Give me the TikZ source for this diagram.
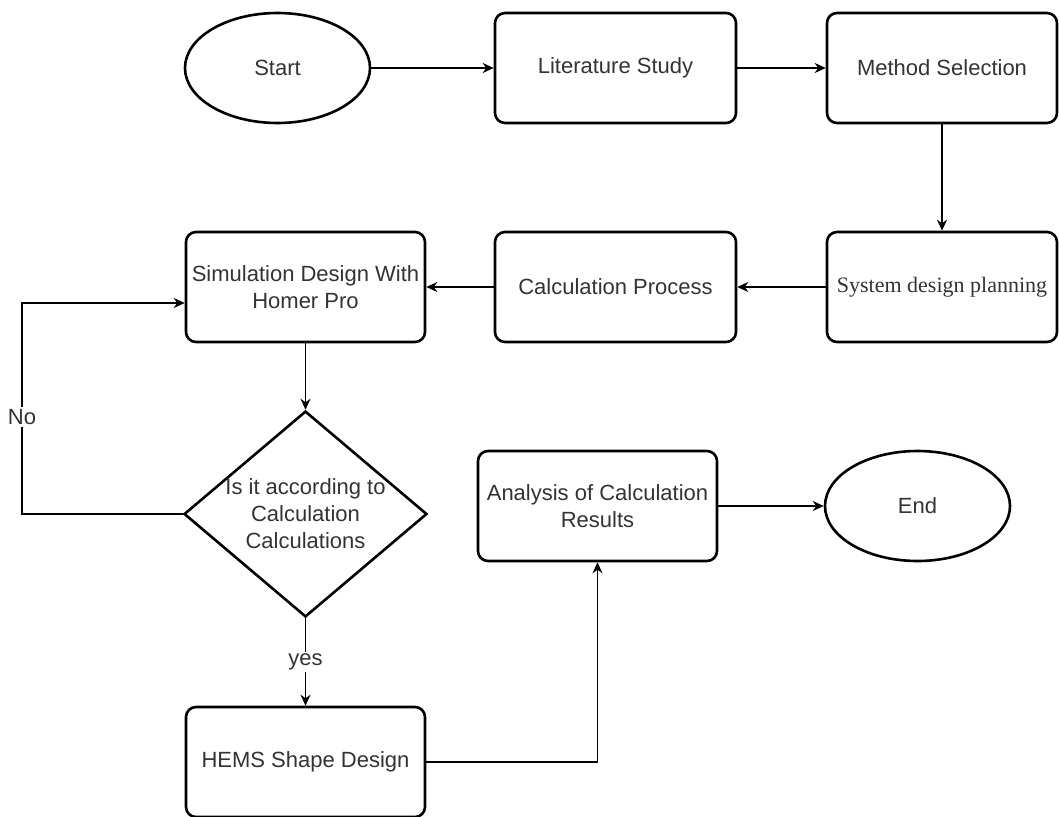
\documentclass[tikz,border=0pt]{standalone}
\usepackage{fontspec}
\setmainfont{Liberation Sans}
\newfontfamily\serifcaption{Liberation Serif}
\usetikzlibrary{arrows.meta,positioning,shapes.geometric}

\begin{document}
\begin{tikzpicture}[x=1pt, y=-1pt, >={Stealth[length=11pt,width=10pt]},
    every node/.style={font=\fontsize{22}{27}\selectfont, text=black!80},
    box/.style={draw=black, line width=2.6pt, rounded corners=10pt, align=center,
                minimum width=239pt, minimum height=110pt, inner sep=0pt},
    oval/.style={draw=black, line width=2.6pt, ellipse,
                 minimum width=185pt, minimum height=110pt, inner sep=0pt},
    decision/.style={draw=black, line width=2.6pt, diamond, align=center,
                     minimum width=238pt, minimum height=202pt, inner sep=0pt, aspect=1.18},
    flow/.style={->, line width=1.5pt, draw=black},
    tag/.style={fill=white, inner sep=2pt}]
  \useasboundingbox (0,0) rectangle (1059,816);
  % --- top row ---
  \node[oval] (start) at (277.5,68) {Start};
  \node[box, minimum width=241pt] (litstudy) at (615.5,68) {Literature Study};
  \node[box, minimum width=230pt] (method) at (942,68) {Method Selection};
  % --- second row, right to left ---
  \node[box, minimum width=230pt] (sysplan) at (942,287) {\serifcaption System design planning};
  \node[box, minimum width=241pt] (calcproc) at (615.5,287) {Calculation Process};
  \node[box] (simdesign) at (305.5,287) {Simulation Design With\\Homer Pro};
  % --- decision and lower part ---
  \node[decision] (check) at (305.5,514) {Is it according to\\Calculation\\Calculations};
  \node[box] (hems) at (305.5,762) {HEMS Shape Design};
  \node[box] (analysis) at (597.5,506) {Analysis of Calculation\\Results};
  \node[oval] (finish) at (917.5,506) {End};
  \coordinate (noturn) at (22,514);
  % --- connectors ---
  \draw[flow] (start) -- (litstudy);
  \draw[flow] (litstudy) -- (method);
  \draw[flow] (method) -- (sysplan);
  \draw[flow] (sysplan) -- (calcproc);
  \draw[flow] (calcproc) -- (simdesign);
  \draw[flow] (simdesign) -- (check);
  \draw[flow] (check) -- node[tag, pos=0.5] {yes} (hems);
  \draw[flow] (check.west) -- (noturn) |- node[tag, pos=0.23] {No} ([yshift=-16pt]simdesign.west);
  \draw[flow] (hems.east) -| (analysis.south);
  \draw[flow] (analysis) -- (finish);
\end{tikzpicture}
\end{document}
